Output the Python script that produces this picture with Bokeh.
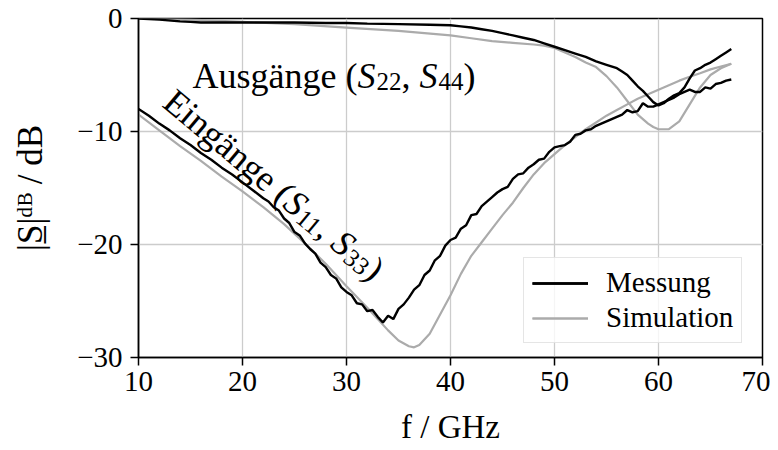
import math
from bokeh.plotting import figure
from bokeh.models import (Range1d, FixedTicker, Legend, LegendItem, Label)
from bokeh.embed import file_html
from bokeh.resources import INLINE

# ---------------- data ----------------
f_meas_in = [10, 11, 12, 13, 14, 15, 16, 17, 18, 19, 20, 21, 22, 22.5, 23, 23.5, 24, 24.5, 25, 25.5,
             26, 26.5, 27, 27.5, 28, 28.5, 29, 29.5, 30, 30.5, 31, 31.5, 32, 32.5, 33, 33.5, 34, 34.5,
             35, 35.5, 36, 36.5, 37, 37.5, 38, 38.5, 39, 39.5, 40, 40.5, 41, 41.5, 42, 42.5, 43, 43.5,
             44, 44.5, 45, 45.5, 46, 46.5, 47, 47.5, 48, 48.5, 49, 49.5, 50, 50.5, 51, 51.5, 52, 52.5,
             53, 53.5, 54, 54.5, 55, 55.5, 56, 56.5, 57, 57.5, 58, 58.5, 59, 59.5, 60, 60.5, 61, 61.5,
             62, 62.5, 63, 63.5, 64, 64.5, 65, 65.5, 66, 66.5, 67]
s_meas_in = [-8.0, -8.6, -9.3, -9.9, -10.6, -11.2, -11.9, -12.5, -13.2, -13.8, -14.5, -15.2, -15.9,
             -16.2, -16.7, -17.0, -17.7, -18.1, -18.9, -19.2, -19.9, -20.4, -20.8, -21.6, -22.0, -22.7,
             -23.0, -23.8, -24.2, -24.5, -25.2, -25.3, -25.9, -25.8, -26.4, -26.9, -26.3, -26.6, -25.7,
             -25.3, -24.7, -24.0, -23.6, -22.7, -22.3, -21.4, -21.0, -20.1, -19.6, -19.4, -18.6, -18.3,
             -17.4, -17.3, -16.6, -16.2, -15.8, -15.4, -15.1, -14.9, -14.2, -13.8, -13.7, -13.2, -12.9,
             -12.5, -12.4, -11.8, -11.4, -11.3, -11.2, -10.9, -10.3, -10.2, -9.9, -9.8, -9.5, -9.3,
             -9.1, -8.9, -8.7, -8.5, -8.1, -8.3, -8.2, -7.5, -7.8, -7.8, -7.6, -7.4, -7.2, -7.0, -6.7,
             -6.5, -6.3, -6.5, -6.5, -6.1, -6.2, -5.8, -5.7, -5.5, -5.4]

f_meas_out = [10, 12, 14, 15, 16, 18, 20, 22, 25, 28, 30, 32, 35, 38, 40, 41, 42, 43, 44, 45, 46, 47,
              48, 49, 50, 51, 52, 53, 54, 55, 56, 56.5, 57, 57.5, 58, 58.5, 59, 59.5, 60, 60.5, 61,
              61.5, 62, 62.5, 63, 63.5, 64, 64.5, 65, 65.5, 66, 66.5, 67]
s_meas_out = [0.0, -0.1, -0.25, -0.3, -0.35, -0.35, -0.35, -0.35, -0.35, -0.4, -0.4, -0.45, -0.5,
              -0.55, -0.6, -0.7, -0.8, -0.95, -1.1, -1.3, -1.5, -1.7, -1.9, -2.2, -2.5, -2.8, -3.1,
              -3.4, -3.8, -4.1, -4.4, -4.7, -5.0, -5.5, -6.0, -6.4, -6.9, -7.4, -7.7, -7.5, -7.1,
              -6.8, -6.6, -6.1, -5.3, -4.6, -4.4, -4.1, -3.9, -3.6, -3.3, -3.0, -2.7]

f_sim_in = [10, 12, 14, 16, 18, 20, 22, 24, 26, 28, 30, 32, 33, 34, 35, 36, 36.5, 37, 38, 39, 40, 41,
            42, 43, 44, 45, 46, 47, 48, 49, 50, 51, 52, 53, 54, 55, 56, 57, 58, 59, 60, 61, 62, 63,
            64, 65, 66, 67]
s_sim_in = [-8.5, -9.9, -11.3, -12.6, -14.0, -15.3, -16.7, -18.2, -19.9, -21.7, -23.7, -25.6, -26.6,
            -27.6, -28.5, -29.0, -29.1, -28.9, -27.9, -26.2, -24.5, -22.6, -21.0, -19.8, -18.6,
            -17.4, -16.3, -15.0, -13.8, -12.8, -12.0, -11.2, -10.5, -9.8, -9.2, -8.6, -8.1, -7.6,
            -7.1, -6.7, -6.3, -5.9, -5.5, -5.15, -4.85, -4.5, -4.25, -4.0]

f_sim_out = [10, 15, 20, 25, 30, 35, 40, 42, 44, 46, 48, 49, 50, 51, 52, 53, 54, 55, 56, 57, 58, 59,
             59.5, 60, 61, 62, 63, 64, 65, 66, 67]
s_sim_out = [0.0, -0.1, -0.3, -0.5, -0.8, -1.1, -1.5, -1.75, -2.0, -2.15, -2.3, -2.4, -2.6, -3.0,
             -3.4, -3.9, -4.3, -5.1, -6.1, -7.3, -8.5, -9.3, -9.6, -9.8, -9.8, -9.1, -7.6, -6.1,
             -5.0, -4.4, -4.0]

x_ticks = [10, 20, 30, 40, 50, 60, 70]
y_ticks = [-30, -20, -10, 0]
y_tick_labels = ["\u221230", "\u221220", "\u221210", "0"]
legend_labels = ["Messung", "Simulation"]

# ---------------- styling ----------------
FONT = "Liberation Serif"
BLACK = "#000000"
GRAY = "#ababab"

p = figure(width=770, height=450, output_backend="svg", toolbar_location=None,
           x_range=Range1d(10, 70), y_range=Range1d(-30, 0),
           min_border_left=138, min_border_right=8, min_border_top=18, min_border_bottom=93)
p.background_fill_color = "white"
p.border_fill_color = "white"
p.outline_line_color = "black"
p.outline_line_width = 1.5

for ax in (p.xaxis[0], p.yaxis[0]):
    ax.axis_line_width = 1.5
    ax.major_tick_line_width = 1.5
    ax.major_tick_out = 8
    ax.major_tick_in = 0
    ax.minor_tick_line_color = None
    ax.major_label_text_font = FONT
    ax.major_label_text_font_size = "29px"
    ax.major_label_text_color = "black"
    ax.axis_label_text_font = FONT
    ax.axis_label_text_font_style = "normal"
    ax.axis_label_text_color = "black"

p.xaxis.ticker = FixedTicker(ticks=x_ticks)
p.yaxis.ticker = FixedTicker(ticks=y_ticks)
p.yaxis.major_label_overrides = {t: l for t, l in zip(y_ticks, y_tick_labels)}
p.xaxis.major_label_standoff = 6
p.yaxis.major_label_standoff = 8

p.yaxis.axis_label = "|S\u0332|\u1d48\u1d2e / dB"
p.yaxis.axis_label_text_font_size = "35px"
p.yaxis.axis_label_standoff = 24

p.xaxis.axis_label = "f / GHz"
p.xaxis.axis_label_text_font_size = "33px"
p.xaxis.axis_label_standoff = 15

p.xgrid.ticker = FixedTicker(ticks=x_ticks)
p.ygrid.ticker = FixedTicker(ticks=y_ticks)
for g in (p.xgrid[0], p.ygrid[0]):
    g.grid_line_color = "#cccccc"
    g.grid_line_width = 1.3

r_sim_in = p.line(f_sim_in, s_sim_in, line_color=GRAY, line_width=2.2)
r_sim_out = p.line(f_sim_out, s_sim_out, line_color=GRAY, line_width=2.2)
r_meas_in = p.line(f_meas_in, s_meas_in, line_color=BLACK, line_width=2.4)
r_meas_out = p.line(f_meas_out, s_meas_out, line_color=BLACK, line_width=2.4)

legend = Legend(items=[LegendItem(label=legend_labels[0], renderers=[r_meas_in, r_meas_out]),
                       LegendItem(label=legend_labels[1], renderers=[r_sim_in, r_sim_out])],
                location=(385, 14))
legend.label_text_font = FONT
legend.label_text_font_size = "29px"
legend.label_text_color = "black"
legend.glyph_width = 56
legend.glyph_height = 30
legend.label_standoff = 18
legend.padding = 8
legend.spacing = 2
legend.margin = 0
legend.border_line_color = "#cccccc"
legend.border_line_width = 1.5
legend.background_fill_alpha = 0.8
p.add_layout(legend)

# ---------------- composed texts ----------------
W = {" ": 250, "(": 333, ")": 333, ",": 250, "0": 500, "1": 500, "2": 500, "3": 500, "4": 500,
     "A": 722, "E": 611, "S": 556, "a": 444, "\u00e4": 444, "e": 444, "g": 500, "i": 278,
     "n": 500, "s": 389, "u": 500}
WI = {"S": 500}


def width(txt, size, italic=False):
    return sum((WI.get(c, W.get(c, 500)) if italic else W.get(c, 500)) for c in txt) * size / 1000.0


BIG = 36
SUB = 25
SUBDROP = 6


def pieces(word, sa, sb):
    return [(f"{word} (", False, BIG, 0),
            ("S", True, BIG, 0), (sa, False, SUB, SUBDROP), (", ", False, BIG, 0),
            ("S", True, BIG, 0), (sb, False, SUB, SUBDROP), (")", False, BIG, 0)]


def add_text(x, y, parts, angle_deg):
    th = math.radians(angle_deg)
    ux, uy = math.cos(th), math.sin(th)
    dx, dy = uy, -ux  # local "down"
    d = 0.0
    for txt, ital, size, drop in parts:
        p.add_layout(Label(x=x, y=y, text=txt, angle=angle_deg, angle_units="deg",
                           x_offset=d * ux + drop * dx, y_offset=d * uy + drop * dy,
                           text_font=FONT, text_font_size=f"{size}px",
                           text_font_style="italic" if ital else "normal",
                           text_align="left", text_baseline="alphabetic", text_color="black"))
        d += width(txt, size, ital) + (1 if ital else 0)


add_text(15.2, -5.05, pieces("Ausgänge", "22", "44"), 0)
add_text(12.9, -6.9, pieces("Eingänge", "11", "33"), -40)

open("out.html", "w").write(file_html(p, INLINE))
